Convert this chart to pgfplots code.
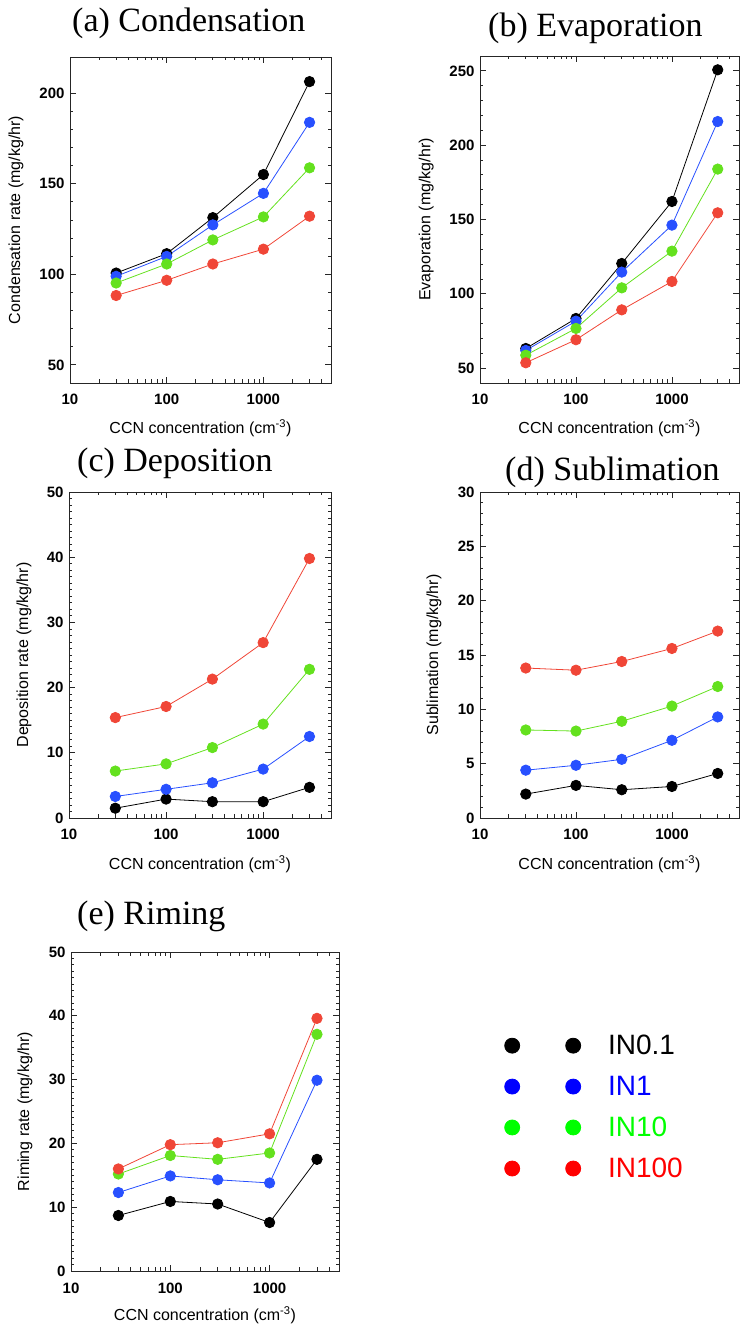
\documentclass[border=0pt]{standalone}
\usepackage{pgfplots}
\pgfplotsset{compat=1.18}
\usepackage{fontspec}
\setmainfont{Liberation Serif}
\setsansfont{Liberation Sans}

\definecolor{cBlack}{RGB}{0,0,0}
\definecolor{cBlue}{RGB}{40,80,255}
\definecolor{cGreen}{RGB}{100,225,30}
\definecolor{cRed}{RGB}{240,70,55}

% settings shared by all five panels
\pgfplotsset{
  scale only axis,
  xmin=10, xmax=5000,
  xtick={10,100,1000}, xticklabels={10,100,1000},
  minor xtick={20,30,40,50,60,70,80,90,200,300,400,500,600,700,800,900,2000,3000,4000},
  tick align=inside, major tick length=6pt, minor tick length=3.5pt,
  axis line style={line width=0.9pt, black!85},
  every tick/.style={black!85, line width=0.8pt},
  ticklabel style={font=\sffamily\bfseries\fontsize{15}{15}\selectfont},
  xticklabel style={yshift=-8pt},
  yticklabel style={xshift=-2pt, /pgf/number format/assume math mode=true},
  label style={font=\sffamily\fontsize{16}{16}\selectfont},
  xlabel={CCN concentration (cm\textsuperscript{-3})},
  every axis plot/.append style={line width=0.8pt, mark=*, mark size=5.2pt},
}

\begin{document}
\begin{tikzpicture}
\useasboundingbox (0pt,0pt) rectangle (740pt,1329pt);

% panel titles
\begin{scope}[every node/.style={anchor=base west, inner sep=0pt, font=\fontsize{34}{36}\selectfont}]
  \node at (72pt,1297pt) {(a) Condensation};
  \node at (488pt,1292pt) {(b) Evaporation};
  \node at (77pt,857pt) {(c) Deposition};
  \node at (505pt,848pt) {(d) Sublimation};
  \node at (77pt,404pt) {(e) Riming};
\end{scope}

% (a) condensation
\begin{axis}[xmode=log, anchor=south west, at={(70pt,946pt)}, width=261pt, height=326pt,
  ymin=40, ymax=220, ytick={50,100,150,200}, minor y tick num=4,
  ylabel={Condensation rate (mg/kg/hr)},
  xlabel style={at={(axis description cs:0.5,-0.138)}, anchor=center},
  ylabel style={at={(axis description cs:-0.207,0.5)}, anchor=center}]
\addplot[cBlack] coordinates {(30,100.7) (100,111.4) (300,131.3) (1000,155.1) (3000,206.4)};
\addplot[cBlue] coordinates {(30,98.9) (100,109.9) (300,127.3) (1000,144.7) (3000,183.9)};
\addplot[cGreen] coordinates {(30,95.2) (100,105.7) (300,119.0) (1000,131.7) (3000,158.8)};
\addplot[cRed] coordinates {(30,88.3) (100,96.7) (300,105.7) (1000,113.9) (3000,132.1)};
\end{axis}

% (b) evaporation
\begin{axis}[xmode=log, anchor=south west, at={(480pt,946pt)}, width=259pt, height=327pt,
  ymin=40, ymax=260, ytick={50,100,150,200,250}, minor y tick num=4,
  ylabel={Evaporation (mg/kg/hr)},
  xlabel style={at={(axis description cs:0.5,-0.138)}, anchor=center},
  ylabel style={at={(axis description cs:-0.208,0.5)}, anchor=center}]
\addplot[cBlack] coordinates {(30,63.2) (100,83.4) (300,120.4) (1000,162.1) (3000,250.7)};
\addplot[cBlue] coordinates {(30,61.9) (100,81.6) (300,114.6) (1000,146.2) (3000,215.9)};
\addplot[cGreen] coordinates {(30,58.7) (100,76.7) (300,104.0) (1000,128.7) (3000,183.9)};
\addplot[cRed] coordinates {(30,53.6) (100,69.1) (300,89.2) (1000,108.3) (3000,154.5)};
\end{axis}

% (c) deposition
\begin{axis}[xmode=log, anchor=south west, at={(69pt,511pt)}, width=262pt, height=326pt,
  ymin=0, ymax=50, ytick={0,10,20,30,40,50}, minor y tick num=9,
  ylabel={Deposition rate (mg/kg/hr)},
  xlabel style={at={(axis description cs:0.5,-0.141)}, anchor=center},
  ylabel style={at={(axis description cs:-0.172,0.5)}, anchor=center}]
\addplot[cBlack] coordinates {(30,1.5) (100,2.9) (300,2.5) (1000,2.5) (3000,4.7)};
\addplot[cBlue] coordinates {(30,3.3) (100,4.4) (300,5.4) (1000,7.5) (3000,12.5)};
\addplot[cGreen] coordinates {(30,7.2) (100,8.3) (300,10.8) (1000,14.4) (3000,22.8)};
\addplot[cRed] coordinates {(30,15.4) (100,17.1) (300,21.3) (1000,26.9) (3000,39.8)};
\end{axis}

% (d) sublimation
\begin{axis}[xmode=log, anchor=south west, at={(480pt,511pt)}, width=259pt, height=326pt,
  ymin=0, ymax=30, ytick={0,5,10,15,20,25,30}, minor y tick num=4,
  ylabel={Sublimation (mg/kg/hr)},
  xlabel style={at={(axis description cs:0.5,-0.141)}, anchor=center},
  ylabel style={at={(axis description cs:-0.178,0.5)}, anchor=center}]
\addplot[cBlack] coordinates {(30,2.2) (100,3.0) (300,2.6) (1000,2.9) (3000,4.1)};
\addplot[cBlue] coordinates {(30,4.4) (100,4.85) (300,5.4) (1000,7.15) (3000,9.3)};
\addplot[cGreen] coordinates {(30,8.1) (100,8.0) (300,8.9) (1000,10.3) (3000,12.1)};
\addplot[cRed] coordinates {(30,13.8) (100,13.6) (300,14.4) (1000,15.6) (3000,17.2)};
\end{axis}

% (e) riming, carrying the legend for all panels
\begin{axis}[xmode=log, anchor=south west, at={(71pt,58pt)}, width=268pt, height=319pt,
  ymin=0, ymax=50, ytick={0,10,20,30,40,50}, minor y tick num=9,
  ylabel={Riming rate (mg/kg/hr)},
  xlabel style={at={(axis description cs:0.5,-0.138)}, anchor=center},
  ylabel style={at={(axis description cs:-0.172,0.5)}, anchor=center},
  legend cell align=left,
  legend image code/.code={%
    \fill (7.5pt,0pt) circle (7.5pt);
    \fill (68.5pt,0pt) circle (7.5pt);},
  legend style={at={(axis description cs:1.616,0.74)}, anchor=north west,
    draw=none, fill=none, inner sep=0pt, row sep=20pt, column sep=27pt,
    nodes={inner sep=0pt},
    font=\sffamily\fontsize{28}{28}\selectfont}]
\addplot[cBlack, forget plot] coordinates {(30,8.7) (100,10.9) (300,10.5) (1000,7.6) (3000,17.5)};
\addplot[cBlue, forget plot] coordinates {(30,12.3) (100,14.9) (300,14.3) (1000,13.8) (3000,29.9)};
\addplot[cGreen, forget plot] coordinates {(30,15.2) (100,18.1) (300,17.5) (1000,18.5) (3000,37.1)};
\addplot[cRed, forget plot] coordinates {(30,16.0) (100,19.8) (300,20.1) (1000,21.5) (3000,39.6)};
\addlegendimage{black, fill=black}
\addlegendentry[text=black]{IN0.1}
\addlegendimage{blue, fill=blue}
\addlegendentry[text=blue]{IN1}
\addlegendimage{green, fill=green}
\addlegendentry[text=green]{IN10}
\addlegendimage{red, fill=red}
\addlegendentry[text=red]{IN100}
\end{axis}
\end{tikzpicture}
\end{document}
